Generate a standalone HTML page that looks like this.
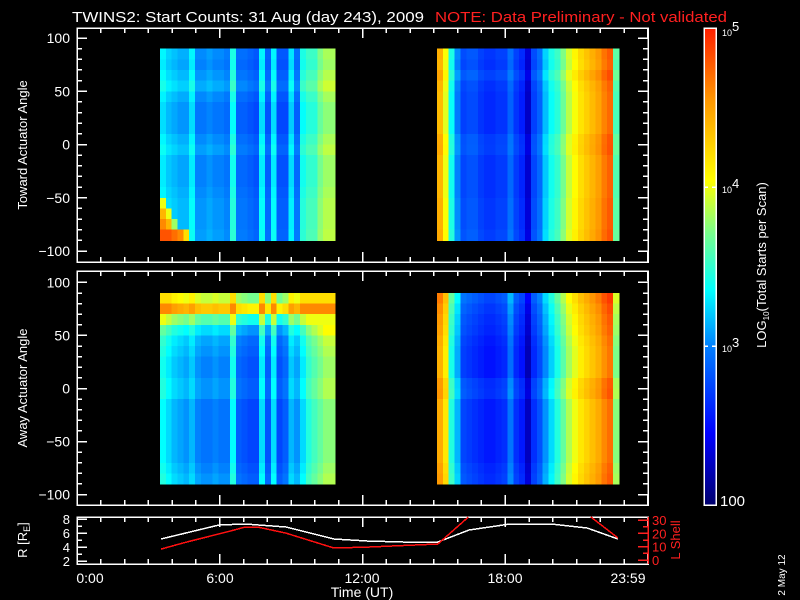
<!DOCTYPE html>
<html><head><meta charset="utf-8">
<style>
html,body{margin:0;padding:0;background:#000;}
svg{display:block;font-family:"Liberation Sans",sans-serif;}
</style></head>
<body>
<svg id="chart" width="800" height="600" viewBox="0 0 800 600" shape-rendering="crispEdges">
<rect x="0" y="0" width="800" height="600" fill="#000"/>
<text x="72" y="22" fill="#fff" font-size="15" textLength="352" lengthAdjust="spacingAndGlyphs">TWINS2: Start Counts: 31 Aug (day 243), 2009</text>
<text x="435" y="22" fill="#ff2020" font-size="15" textLength="292" lengthAdjust="spacingAndGlyphs">NOTE: Data Preliminary - Not validated</text>
<g id="heat"></g>
<g id="axes"></g>
<g id="lines"></g>
<text transform="translate(27,145) rotate(-90)" fill="#fff" font-size="13" text-anchor="middle">Toward Actuator Angle</text>
<text transform="translate(27,388) rotate(-90)" fill="#fff" font-size="13" text-anchor="middle">Away Actuator Angle</text>
<text transform="translate(27,540) rotate(-90)" fill="#fff" font-size="13" text-anchor="middle">R [R<tspan font-size="9" dy="3">E</tspan><tspan dy="-3">]</tspan></text>
<text transform="translate(680,540) rotate(-90)" fill="#ff2020" font-size="13" text-anchor="middle">L Shell</text>
<text x="362" y="597" fill="#fff" font-size="14" text-anchor="middle">Time (UT)</text>
<text transform="translate(785,575) rotate(-90)" fill="#fff" font-size="10" text-anchor="middle">2 May 12</text>
<text transform="translate(766,265) rotate(-90)" fill="#fff" font-size="13" text-anchor="middle">LOG<tspan font-size="8" dy="3">10</tspan><tspan dy="-3">(Total Starts per Scan)</tspan></text>
</svg>
<script>
// ---------- data ----------
var timeTicks = [0,6,12,18,23.983];
var timeTickLabels = ["0:00","6:00","12:00","18:00","23:59"];
var angleTicks = [100,50,0,-50,-100];
var rTicks = [8,6,4,2];
var lTicks = [30,20,10,0];
var cbTicks = [5,4,3,2];
var cbTickLabels = ["10^5","10^4","10^3","100"];
var block1Start = 3.49, block1End = 10.84;
var block2Start = 15.13, block2End = 22.78;
var rowAngles = [90,80,70,60,50,40,30,20,10,0,-10,-20,-30,-40,-50,-60,-70,-80];
// top panel (toward) block 1, log10 counts per column
var topCols1 = [3.3,3.2,3.15,3.1,3.1,3.3,3.0,3.0,3.05,3.0,3.0,2.95,3.4,2.9,2.9,2.85,2.8,3.3,2.85,3.3,2.8,2.8,3.25,2.9,3.4,3.5,3.5,3.7,3.8,3.8];
var topRows1 = [0.03,0,0.06,0.12,0.02,-0.04,-0.04,-0.04,0.03,0.08,0,0,0,0.03,0.06,0.06,0.06,0.08];
var topOver1 = [[0,14,4.0],[0,15,4.4],[1,15,4.0],[0,16,4.6],[1,16,4.4],[2,16,3.8],[0,17,4.8],[1,17,4.8],[2,17,4.7],[3,17,4.6],[4,17,4.2]];
var topCols2 = [4.4,4.0,3.4,3.0,2.75,2.8,2.8,2.7,2.65,2.65,2.7,2.7,2.9,2.7,2.6,2.3,2.75,2.9,3.2,3.4,3.5,3.7,3.9,4.05,4.2,4.3,4.4,4.5,4.65,4.75,3.6];
var topRows2 = [0.03,0,0.08,0,-0.03,-0.03,-0.03,-0.03,0.05,0.06,0,0,0,0,0.03,0.03,0.03,0.06];
// bottom panel (away)
var botCols1 = [3.4,3.3,3.2,3.15,3.1,3.2,3.05,3.0,3.0,3.05,3.0,3.0,3.4,2.9,2.85,2.8,2.8,3.3,2.85,3.3,2.8,2.9,3.2,3.1,3.3,3.5,3.6,3.7,3.8,3.8];
var botRows1 = [0.9,1.3,0.6,0.25,0.1,0.05,0,0,0.05,0.05,-0.05,-0.05,-0.05,-0.05,-0.05,-0.05,0,0.05];
var botCaps1 = [4.2,4.6,4.0,5,5,5,5,5,5,5,5,5,5,5,5,5,5,5];
var botCols2 = [4.5,4.2,3.5,3.2,2.8,2.75,2.7,2.65,2.6,2.6,2.65,2.7,3.0,2.7,2.6,2.3,2.7,2.85,3.1,3.3,3.5,3.7,3.9,4.05,4.2,4.3,4.4,4.5,4.65,4.75,3.8];
var botRows2 = [0.15,0.08,0.03,0,-0.05,-0.08,-0.08,-0.08,0.03,0.05,-0.05,-0.05,-0.05,-0.05,-0.05,-0.05,0,0.03];
// orbit
var rTimes = [3.53,5.97,7.06,8.78,10.80,12.19,13.70,15.17,16.48,18.20,19.92,21.44,22.74];
var rValues = [5.17,7.17,7.31,6.89,5.17,4.89,4.74,4.74,6.46,7.31,7.31,6.74,5.17];
var lTimes1 = [3.53,4.5,5.5,6.5,7.06,7.6,8.78,10.7,10.8,12.2,15.17,16.45];
var lValues1 = [8.2,13,17.5,22,24.7,24.7,20.2,9.5,9,9.7,12,33];
var lTimes2 = [21.6,22.74];
var lValues2 = [33,16.5];

// ---------- scales ----------
var X0=77, X1=648;
function xS(t){return X0+(t/24)*(X1-X0);}
var P1={top:28,bot:262,zero:144.5,k:1.065};
var P2={top:271,bot:505,zero:388.5,k:1.061};
var P3={top:517,bot:564};
function yA(p,a){return p.zero-a*p.k;}
function yR(r){return 564-(r-1.6)*7;}
function yL(l){return 560-l*1.333;}
function yCB(v){return 505-(v-2)*159;}

var stops=[[0,0,0,110],[0.15,0,0,255],[0.33,0,125,255],[0.45,0,255,255],[0.57,120,255,140],[0.68,255,255,0],[0.85,255,150,0],[1,255,30,0]];
function cmap(v){
  var t=Math.max(0,Math.min(1,(v-2)/3));
  for(var i=1;i<stops.length;i++){
    if(t<=stops[i][0]){
      var a=stops[i-1],b=stops[i],f=(t-a[0])/(b[0]-a[0]);
      return 'rgb('+Math.round(a[1]+f*(b[1]-a[1]))+','+Math.round(a[2]+f*(b[2]-a[2]))+','+Math.round(a[3]+f*(b[3]-a[3]))+')';
    }
  }
  return 'rgb(255,30,0)';
}
var NS='http://www.w3.org/2000/svg';
function mk(tag,attrs,parent){var e=document.createElementNS(NS,tag);for(var k in attrs)e.setAttribute(k,attrs[k]);parent.appendChild(e);return e;}
var heat=document.getElementById('heat'), axes=document.getElementById('axes'), lines=document.getElementById('lines');

function drawBlock(p,t0,t1,cols,rows,over,caps){
  var n=cols.length, dt=(t1-t0)/n;
  var ov={};
  (over||[]).forEach(function(o){ov[o[0]+'_'+o[1]]=o[2];});
  for(var i=0;i<n;i++){
    for(var j=0;j<rows.length;j++){
      var v=cols[i]+rows[j];
      if(caps) v=Math.min(v,caps[j]);
      if(ov[i+'_'+j]!==undefined) v=ov[i+'_'+j];
      var xa=xS(t0+i*dt), xb=xS(t0+(i+1)*dt);
      var ya=yA(p,rowAngles[j]), yb=yA(p,rowAngles[j]-10);
      var r=mk('rect',{x:xa.toFixed(2),y:ya.toFixed(2),width:(xb-xa+0.6).toFixed(2),height:(yb-ya+0.6).toFixed(2),fill:cmap(v)},heat);
      
      
    }
  }
}
drawBlock(P1,block1Start,block1End,topCols1,topRows1,topOver1,null);
drawBlock(P1,block2Start,block2End,topCols2,topRows2,null,null);
drawBlock(P2,block1Start,block1End,botCols1,botRows1,null,botCaps1);
drawBlock(P2,block2Start,block2End,botCols2,botRows2,null,null);

// axes
function line(x1,y1,x2,y2,c,nm){var l=mk('line',{x1:x1,y1:y1,x2:x2,y2:y2,stroke:c||'#fff','stroke-width':1.5},axes);
  
  return l;}
function text(x,y,s,anchor,c,size,nm){var t=mk('text',{x:x,y:y,fill:c||'#fff','font-size':size||14,'text-anchor':anchor||'middle'},axes);t.textContent=s;
  
  return t;}
function box(y0,y1,nm){var r=mk('rect',{x:X0,y:y0,width:X1-X0,height:y1-y0,fill:'none',stroke:'#fff','stroke-width':1.5},axes);
  
  }
function timeTicksFor(y0,y1){
  for(var h=0;h<=24;h++){
    var x=xS(Math.min(h,23.983)), L=(h%6===0)?10:5;
    line(x,y1,x,y1-L); line(x,y0,x,y0+L);
  }
}
[P1,P2].forEach(function(p,pi){
  box(p.top,p.bot,pi?'away-panel-frame':'toward-panel-frame');
  for(var a=-100;a<=100;a+=10){
    var y=yA(p,a), L=(a%50===0)?10:5;
    line(X0,y,X0+L,y); line(X1,y,X1-L,y);
  }
  angleTicks.forEach(function(a){text(70,yA(p,a)+5,a===0?'0':(a<0?'\u2212'+(-a):''+a),'end','#fff',14,'y-tick-label');});
  timeTicksFor(p.top,p.bot);
});
box(P3.top,P3.bot,'orbit-panel-frame');
timeTicksFor(P3.top,P3.bot);
for(var r=2;r<=8;r+=1){var y=yR(r);line(X0,y,X0+(r%2===0?10:5),y);}
rTicks.forEach(function(r){text(70,yR(r)+5,''+r,'end','#fff',13,'r-tick-label');});
line(X1,P3.top,X1,P3.bot,'#ff2020','lshell-axis');
for(var l=0;l<=30;l+=5){var y=yL(l);line(X1,y,X1-(l%10===0?10:5),y,'#ff2020','lshell-tick');}
lTicks.forEach(function(l){text(652,yL(l)+5,''+l,'start','#ff2020',13,'lshell-tick-label');});
var tlx=[90,220,362,505,628];
timeTickLabels.forEach(function(s,i){text(tlx[i],583,s,'middle','#fff',14,'x-tick-label');});

// orbit lines
function poly(ts,vs,ysc,c,nm){
  var pts=ts.map(function(t,i){return xS(t).toFixed(1)+','+Math.max(P3.top,ysc(vs[i])).toFixed(1);}).join(' ');
  var p=mk('polyline',{points:pts,fill:'none',stroke:c,'stroke-width':1.5},lines);
  
  
}
poly(rTimes,rValues,yR,'#fff','r-distance-line');
poly(lTimes1,lValues1,yL,'#ff1010','lshell-line');
poly(lTimes2,lValues2,yL,'#ff1010','lshell-line-late');

// colorbar
var defs=mk('defs',{},document.getElementById('chart'));
var g=mk('linearGradient',{id:'cb',x1:0,y1:1,x2:0,y2:0},defs);
stops.forEach(function(s){mk('stop',{offset:s[0],'stop-color':'rgb('+s[1]+','+s[2]+','+s[3]+')'},g);});
var cb=mk('rect',{x:704,y:28,width:12,height:477,fill:'url(#cb)',stroke:'#fff','stroke-width':1.5},axes);


cbTicks.forEach(function(v,i){
  var y=yCB(v);
  if(v===4||v===3){line(704,y,708,y);line(712,y,716,y);}
  var lab=cbTickLabels[i];
  if(lab.indexOf('^')>0){
    var t=text(722,y+(v===5?8:6),'10','start','#fff',9,'colorbar-tick-label');
    var sp=mk('tspan',{dy:-5,'font-size':13},t);sp.textContent=lab.split('^')[1];
  } else text(720,y+1,lab,'start','#fff',15,'colorbar-tick-label');
});
</script>
</body></html>
